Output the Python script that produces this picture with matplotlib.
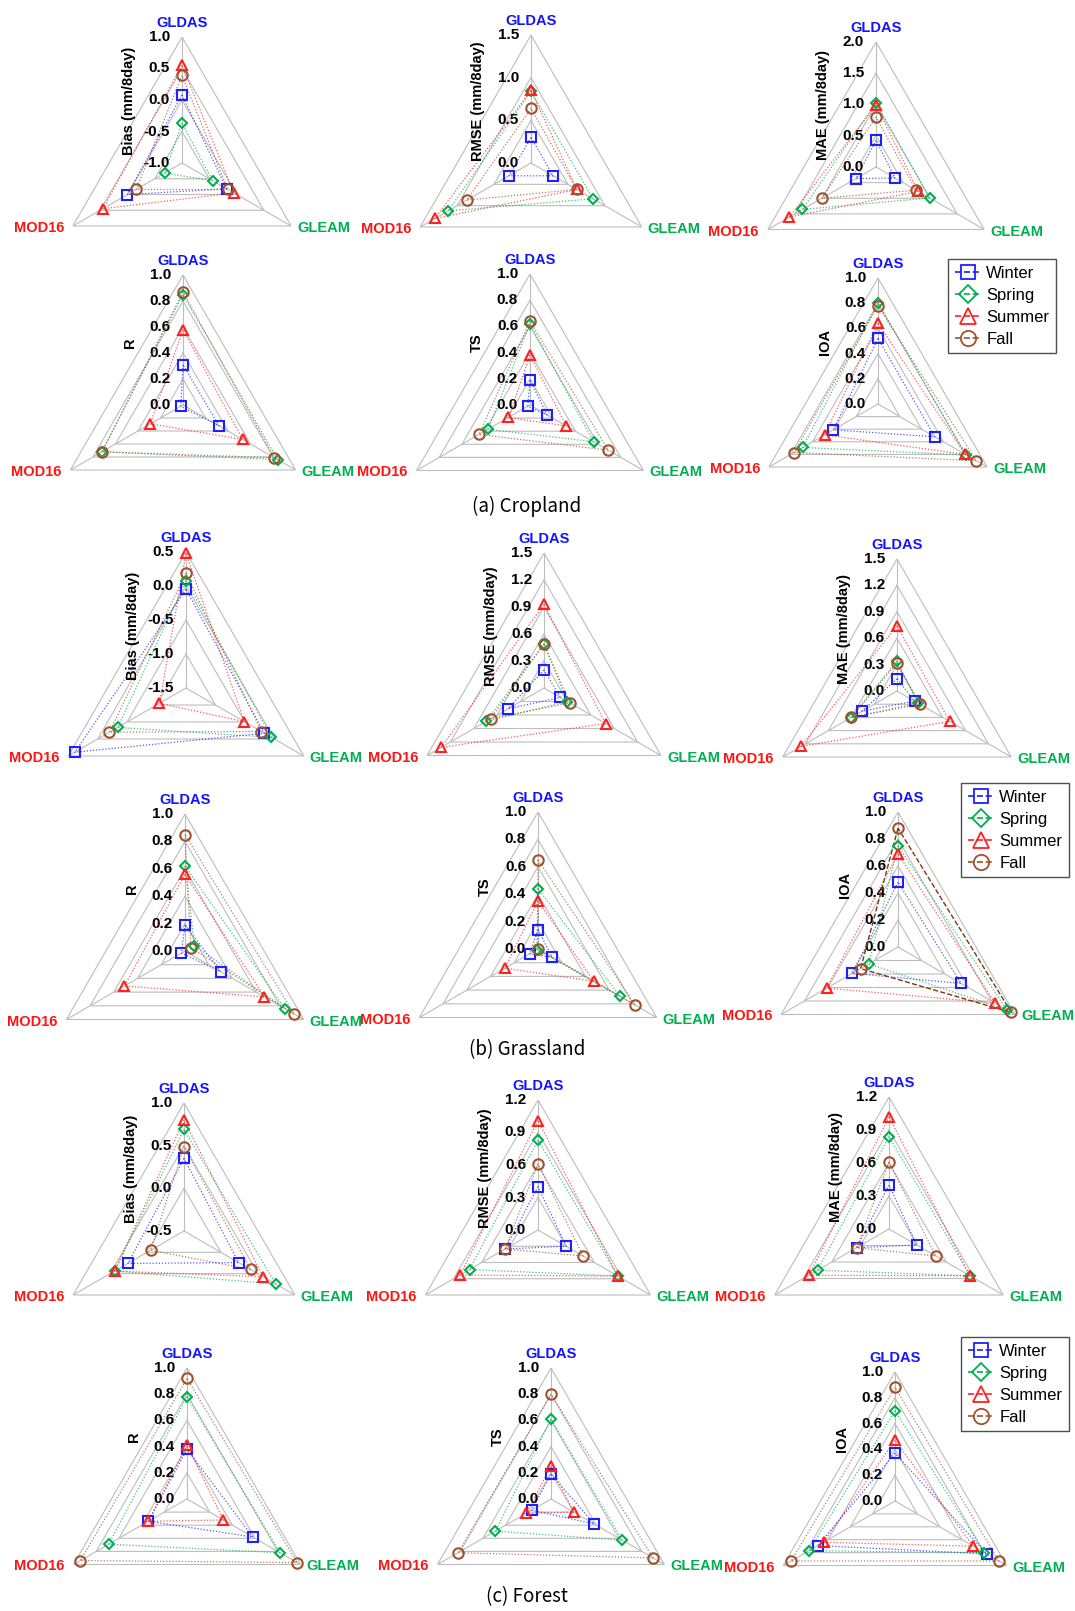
import numpy as np
import matplotlib
matplotlib.use("Agg")
import matplotlib.pyplot as plt
from matplotlib.lines import Line2D

plt.rcParams['font.family'] = ['Liberation Sans', 'DejaVu Sans']

products = ['GLDAS', 'MOD16', 'GLEAM']
seasons = ['Winter', 'Spring', 'Summer', 'Fall']

# ===== DATA (rows: Winter, Spring, Summer, Fall / cols: GLDAS, MOD16, GLEAM) =====
crop_bias = [[0.08, 0.00, -0.18], [-0.37, -0.68, -0.44], [0.55, 0.45, -0.05], [0.39, -0.16, -0.16]]
crop_rmse = [[0.30, 0.30, 0.30], [0.84, 1.12, 0.84], [0.85, 1.30, 0.62], [0.64, 0.87, 0.62]]
crop_mae = [[0.43, 0.37, 0.35], [1.03, 1.36, 0.99], [0.99, 1.60, 0.78], [0.80, 1.00, 0.74]]
crop_r = [[0.31, 0.02, 0.32], [0.85, 0.72, 0.84], [0.58, 0.29, 0.53], [0.87, 0.72, 0.81]]
crop_ts = [[0.19, 0.02, 0.15], [0.62, 0.37, 0.56], [0.38, 0.19, 0.32], [0.64, 0.45, 0.69]]
crop_ioa = [[0.52, 0.41, 0.52], [0.80, 0.69, 0.81], [0.64, 0.49, 0.80], [0.78, 0.77, 0.90]]

grass_bias = [[-0.05, 0.39, -0.17], [0.08, -0.34, -0.05], [0.48, -1.05, -0.51], [0.19, -0.20, -0.22]]
grass_rmse = [[0.20, 0.46, 0.21], [0.49, 0.74, 0.30], [0.93, 1.32, 0.79], [0.49, 0.68, 0.33]]
grass_mae = [[0.14, 0.46, 0.23], [0.34, 0.61, 0.27], [0.74, 1.26, 0.69], [0.32, 0.60, 0.30]]
grass_r = [[0.19, 0.03, 0.30], [0.62, -0.08, 0.84], [0.56, 0.51, 0.67], [0.85, -0.05, 0.92]]
grass_ts = [[0.14, 0.07, 0.12], [0.44, 0.01, 0.69], [0.35, 0.28, 0.47], [0.65, 0.00, 0.82]]
grass_ioa = [[0.48, 0.39, 0.54], [0.75, 0.25, 0.93], [0.69, 0.61, 0.83], [0.88, 0.32, 0.97]]

forest_bias = [[0.35, 0.26, 0.24], [0.69, 0.44, 0.74], [0.80, 0.44, 0.57], [0.49, -0.05, 0.40]]
forest_rmse = [[0.40, 0.35, 0.30], [0.83, 0.73, 0.85], [1.01, 0.83, 0.85], [0.61, 0.35, 0.48]]
forest_mae = [[0.40, 0.34, 0.29], [0.84, 0.75, 0.85], [1.02, 0.84, 0.85], [0.61, 0.34, 0.49]]
forest_r = [[0.38, 0.34, 0.58], [0.78, 0.69, 0.82], [0.41, 0.34, 0.32], [0.92, 0.94, 0.97]]
forest_ts = [[0.19, 0.17, 0.38], [0.61, 0.49, 0.63], [0.25, 0.22, 0.20], [0.80, 0.82, 0.90]]
forest_ioa = [[0.37, 0.69, 0.82], [0.70, 0.77, 0.80], [0.47, 0.64, 0.70], [0.88, 0.93, 0.93]]

# ring ticks (first = centre)
ticks_crop_bias = [-1.0, -0.5, 0.0, 0.5, 1.0]
ticks_crop_rmse = [0.0, 0.5, 1.0, 1.5]
ticks_crop_mae = [0.0, 0.5, 1.0, 1.5, 2.0]
ticks_grass_bias = [-1.5, -1.0, -0.5, 0.0, 0.5]
ticks_grass_err = [0.0, 0.3, 0.6, 0.9, 1.2, 1.5]
ticks_forest_bias = [-0.5, 0.0, 0.5, 1.0]
ticks_forest_err = [0.0, 0.3, 0.6, 0.9, 1.2]
ticks_unit = [0.0, 0.2, 0.4, 0.6, 0.8, 1.0]

captions = ['(a) Cropland', '(b) Grassland', '(c) Forest']

# ===== LAYOUT =====
W, H = 1075, 1611
fig = plt.figure(figsize=(W / 100, H / 100), dpi=100)

panels = [
    (crop_bias, ticks_crop_bias, 'Bias (mm/8day)'), (crop_rmse, ticks_crop_rmse, 'RMSE (mm/8day)'),
    (crop_mae, ticks_crop_mae, 'MAE (mm/8day)'),
    (crop_r, ticks_unit, 'R'), (crop_ts, ticks_unit, 'TS'), (crop_ioa, ticks_unit, 'IOA'),
    (grass_bias, ticks_grass_bias, 'Bias (mm/8day)'), (grass_rmse, ticks_grass_err, 'RMSE (mm/8day)'),
    (grass_mae, ticks_grass_err, 'MAE (mm/8day)'),
    (grass_r, ticks_unit, 'R'), (grass_ts, ticks_unit, 'TS'), (grass_ioa, ticks_unit, 'IOA'),
    (forest_bias, ticks_forest_bias, 'Bias (mm/8day)'), (forest_rmse, ticks_forest_err, 'RMSE (mm/8day)'),
    (forest_mae, ticks_forest_err, 'MAE (mm/8day)'),
    (forest_r, ticks_unit, 'R'), (forest_ts, ticks_unit, 'TS'), (forest_ioa, ticks_unit, 'IOA'),
]

cx = [182, 531, 876, 183, 530, 878, 186, 544, 897, 185, 538, 898, 184, 538, 889, 187, 551, 895]
cy = [163, 163, 167, 405, 405, 404, 688, 688, 691, 951, 949, 947, 1231, 1230, 1229, 1499, 1499, 1501]
rad = [126, 128, 125, 130, 131, 126, 136, 135, 132, 137, 137, 135, 128, 130, 132, 131, 131, 129]

ang = np.radians([90, 210, 330])
s_colors = ['#1f1fff', '#00b050', '#ff2020', '#a0522d']
s_markers = ['s', 'D', '^', 'o']
s_ms = [6.5, 5.5, 7.5, 7.5]
name_colors = ['#1414ff', '#ff1414', '#00b050']
grid_c = '#bdbdbd'


def to_polar(vals, lo):
    th, rr = [], []
    for a, v in zip(ang, vals):
        if v < lo:  # below the centre value: mirrored through the centre
            th.append(a + np.pi)
            rr.append(2 * lo - v)
        else:
            th.append(a)
            rr.append(v)
    return th + th[:1], rr + rr[:1]


def radar(ax, vals, ticks, ylab, dashed_fall=False):
    lo, hi = ticks[0], ticks[-1]
    ax.set_ylim(lo, hi)
    ax.set_xticks(ang)
    ax.set_xticklabels([])
    ax.set_yticks([])
    ax.xaxis.grid(True, color=grid_c, lw=0.8)
    ax.spines['polar'].set_visible(False)
    ax.patch.set_visible(False)

    closed = np.append(ang, ang[0])
    for t in ticks[1:]:
        ax.plot(closed, [t] * 4, color=grid_c, lw=0.8, zorder=1)

    for t in ticks:
        ax.annotate(f'{t:.1f}', xy=(np.pi / 2, t), xytext=(-12, 0), textcoords='offset pixels',
                    ha='right', va='center', fontsize=11, fontweight='bold', annotation_clip=False)

    for i in range(4):
        th, rr = to_polar(vals[i], lo)
        if dashed_fall and i == 3:
            ax.plot(th, rr, color='#7a3a12', lw=1.0, ls='--', zorder=3, clip_on=False)
        else:
            ax.plot(th, rr, color=s_colors[i], lw=0.9, ls=(0, (1, 1.5)), alpha=0.75,
                    zorder=3, clip_on=False)
        ax.plot(th[:-1], rr[:-1], ls='none', marker=s_markers[i], ms=s_ms[i], mfc='none',
                mec=s_colors[i], mew=1.5, zorder=4 + i, clip_on=False)

    ax.annotate('GLDAS', xy=(ang[0], hi), xytext=(0, 14), textcoords='offset pixels',
                ha='center', va='center', color=name_colors[0], fontsize=10.5, fontweight='bold',
                annotation_clip=False)
    ax.annotate('MOD16', xy=(ang[1], hi), xytext=(-9, -2), textcoords='offset pixels',
                ha='right', va='center', color=name_colors[1], fontsize=10.5, fontweight='bold',
                annotation_clip=False)
    ax.annotate('GLEAM', xy=(ang[2], hi), xytext=(6, -2), textcoords='offset pixels',
                ha='left', va='center', color=name_colors[2], fontsize=10.5, fontweight='bold',
                annotation_clip=False)
    ax.annotate(ylab, xy=(0.5, 0.5), xycoords='axes fraction', xytext=(-53, 62),
                textcoords='offset pixels', rotation=90, ha='center', va='center',
                fontsize=10.5, fontweight='bold')


for k, (vals, ticks, ylab) in enumerate(panels):
    r = rad[k]
    ax = fig.add_axes([(cx[k] - r) / W, (H - cy[k] - r) / H, 2 * r / W, 2 * r / H], projection='polar')
    radar(ax, vals, ticks, ylab, dashed_fall=(k == 11))

# ===== LEGENDS =====
handles = [Line2D([], [], color=s_colors[i], ls='--', lw=1.2, marker=s_markers[i],
                  ms=[10, 9, 11, 11][i], mfc='none', mew=1.3) for i in range(4)]
for (lx, ly) in [(948, 259), (961, 783), (961, 1337)]:
    leg = fig.legend(handles, seasons, loc='upper left', bbox_to_anchor=(lx / W, 1 - ly / H),
                     fontsize=12, frameon=True, fancybox=False, edgecolor='#222222',
                     handlelength=1.6, handletextpad=0.3, labelspacing=0.42, borderpad=0.4,
                     borderaxespad=0)
    leg.get_frame().set_linewidth(1.0)

# ===== CAPTIONS =====
for txt, yy in zip(captions, [506, 1050, 1597]):
    fig.text(527 / W, 1 - yy / H, txt, ha='center', va='center', fontsize=13.5,
             family=['Noto Sans CJK KR', 'DejaVu Sans'])

fig.savefig('out.png', dpi=100, facecolor='white')
